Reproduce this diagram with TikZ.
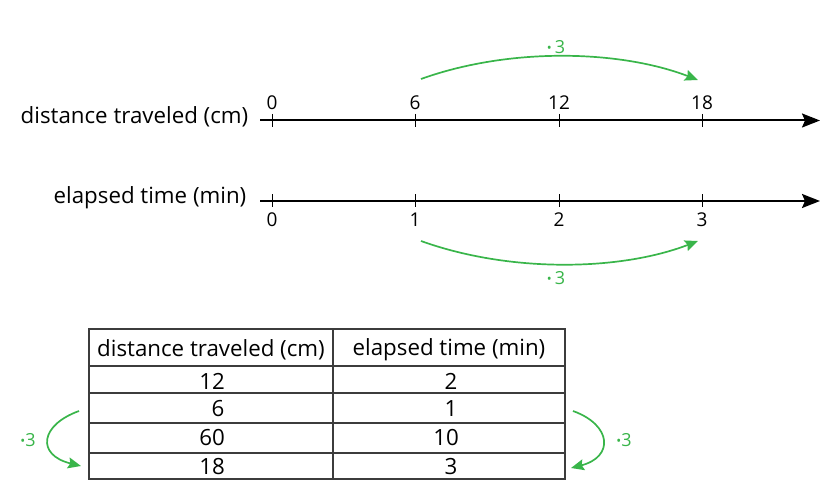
\documentclass[tikz,border=0pt]{standalone}
\usepackage{fontspec}
\setmainfont{Open Sans}
\usetikzlibrary{arrows.meta}
\definecolor{igreen}{RGB}{57,181,74}
\definecolor{tline}{RGB}{60,60,60}
\newcommand{\gdot}{{\fontsize{13}{13}\selectfont\raisebox{1pt}{•}}}
\begin{document}
\begin{tikzpicture}[x=1pt,y=-1pt,
  axis/.style={line width=2pt,-{Stealth[length=18pt,width=14pt,inset=3pt]}},
  tick/.style={line width=1pt},
  ticklab/.style={font=\fontsize{19}{21}\selectfont,inner sep=0pt},
  axlab/.style={font=\fontsize{22.3}{26}\selectfont,inner sep=0pt,anchor=east},
  garrow/.style={igreen,line width=1.7pt,-{Stealth[length=13pt,width=11pt,inset=2pt]}},
  glab/.style={igreen,font=\fontsize{18}{20}\selectfont,inner sep=0pt},
  cell/.style={font=\fontsize{22.3}{26}\selectfont,inner sep=0pt},
  tbl/.style={tline,line width=1.3pt}]
\useasboundingbox (0,0) rectangle (840,502);
% number line 1
\node[axlab] (l1) at (248.5,117) {distance traveled (cm)};
\coordinate (a1s) at (260,120.5);
\coordinate (a1e) at (820,120.5);
\draw[axis] (a1s) -- (a1e);
\foreach \x/\t/\n in {272/0/a, 415/6/b, 559/12/c, 702/18/d}{
  \draw[tick] (\x,114) -- (\x,127);
  \node[ticklab] (t1\n) at (\x,103) {\t};
}
% number line 2
\node[axlab] (l2) at (246.5,198) {elapsed time (min)};
\coordinate (a2s) at (260,201);
\coordinate (a2e) at (820,201);
\draw[axis] (a2s) -- (a2e);
\foreach \x/\t/\n in {272/0/a, 415/1/b, 559/2/c, 702/3/d}{
  \draw[tick] (\x,194.5) -- (\x,207.5);
  \node[ticklab] (t2\n) at (\x,220) {\t};
}
% green arcs on number lines
\coordinate (g1s) at (421,79);
\coordinate (g1e) at (698,80);
\draw[garrow] (g1s) .. controls (510,47) and (620,50) .. (g1e);
\node[glab] (m1) at (556,47) {\gdot\,3};
\coordinate (g2s) at (421,241);
\coordinate (g2e) at (698,241);
\draw[garrow] (g2s) .. controls (510,273) and (620,271) .. (g2e);
\node[glab] (m2) at (556,278) {\gdot\,3};
% table
\draw[tbl] (89,329) rectangle (565,479);
\draw[tbl] (333,329) -- (333,479);
\foreach \y in {366,393,423,453}{\draw[tbl] (89,\y) -- (565,\y);}
\node[cell] (h1) at (211,350) {distance traveled (cm)};
\node[cell] (h2) at (449,350) {elapsed time (min)};
\node[cell] (r1a) at (212,381) {12};
\node[cell] (r2a) at (218,409) {6};
\node[cell] (r3a) at (212,438) {60};
\node[cell] (r4a) at (212,467) {18};
\node[cell] (r1b) at (451,381) {2};
\node[cell] (r2b) at (451,409) {1};
\node[cell] (r3b) at (446,438) {10};
\node[cell] (r4b) at (451,467) {3};
% side arcs
\coordinate (s1s) at (79,411);
\coordinate (s1e) at (81,466);
\draw[garrow] (s1s) .. controls (40,425) and (36,455) .. (s1e);
\node[glab] (m3) at (28,440) {\gdot3};
\coordinate (s2s) at (573,411);
\coordinate (s2e) at (571,468);
\draw[garrow] (s2s) .. controls (612,425) and (614,457) .. (s2e);
\node[glab] (m4) at (624,440) {\gdot3};
\end{tikzpicture}
\end{document}
